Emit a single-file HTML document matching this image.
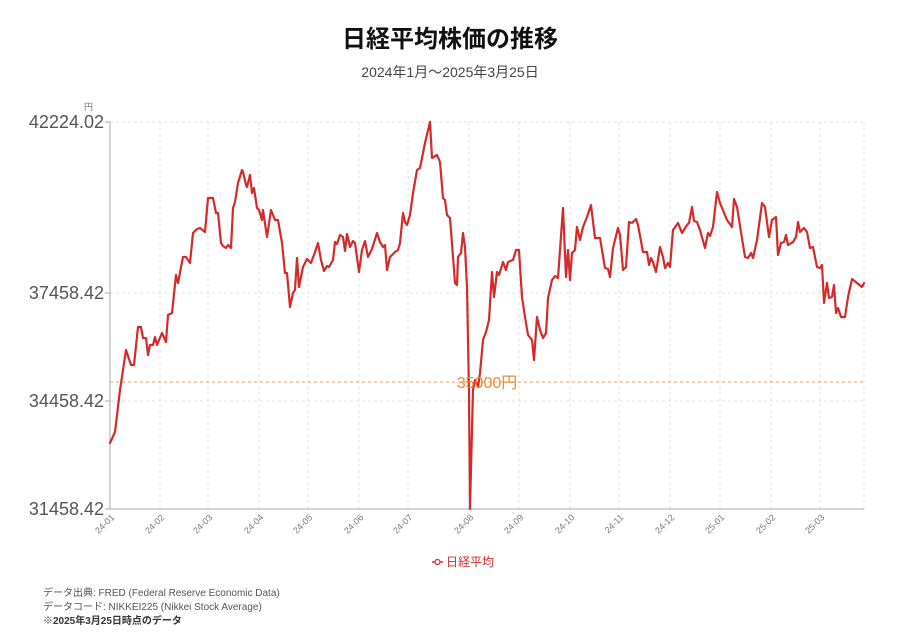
<!DOCTYPE html>
<html><head><meta charset="utf-8"><style>
body{margin:0;background:#fff;font-family:"Liberation Sans","Noto Sans CJK JP",sans-serif;}
</style></head><body>
<svg width="900" height="633" xmlns="http://www.w3.org/2000/svg" font-family="Liberation Sans, Noto Sans CJK JP, sans-serif">
<text x="450" y="47" text-anchor="middle" font-size="24" font-weight="bold" fill="#111">日経平均株価の推移</text>
<text x="450" y="77" text-anchor="middle" font-size="14" fill="#444">2024年1月〜2025年3月25日</text>
<g stroke="#e2e2e2" stroke-dasharray="3,3" stroke-width="1">
<line x1="110" y1="122" x2="864" y2="122"/><line x1="110" y1="293" x2="864" y2="293"/><line x1="110" y1="401" x2="864" y2="401"/>
<line x1="160" y1="122" x2="160" y2="509"/><line x1="208" y1="122" x2="208" y2="509"/><line x1="259" y1="122" x2="259" y2="509"/><line x1="308" y1="122" x2="308" y2="509"/><line x1="359" y1="122" x2="359" y2="509"/><line x1="408" y1="122" x2="408" y2="509"/><line x1="469" y1="122" x2="469" y2="509"/><line x1="519" y1="122" x2="519" y2="509"/><line x1="570" y1="122" x2="570" y2="509"/><line x1="619" y1="122" x2="619" y2="509"/><line x1="670" y1="122" x2="670" y2="509"/><line x1="720" y1="122" x2="720" y2="509"/><line x1="771" y1="122" x2="771" y2="509"/><line x1="820" y1="122" x2="820" y2="509"/><line x1="864" y1="122" x2="864" y2="509"/>
</g>
<line x1="110" y1="382" x2="864" y2="382" stroke="#f5a05a" stroke-dasharray="3,3" stroke-width="1"/>
<line x1="110" y1="122" x2="110" y2="509" stroke="#aaa"/>
<line x1="110" y1="509" x2="864" y2="509" stroke="#aaa"/>
<g stroke="#aaa"><line x1="105" y1="122" x2="110" y2="122"/><line x1="105" y1="293" x2="110" y2="293"/><line x1="105" y1="401" x2="110" y2="401"/><line x1="105" y1="509" x2="110" y2="509"/></g>
<g font-size="18" fill="#555" text-anchor="end">
<text x="104" y="128">42224.02</text><text x="104" y="299">37458.42</text><text x="104" y="407">34458.42</text><text x="104" y="515">31458.42</text>
</g>
<text x="84" y="110" font-size="9" fill="#777">円</text>
<g font-size="9" fill="#777" text-anchor="end">
<text transform="translate(115,518) rotate(-45)">24-01</text><text transform="translate(165,518) rotate(-45)">24-02</text><text transform="translate(213,518) rotate(-45)">24-03</text><text transform="translate(264,518) rotate(-45)">24-04</text><text transform="translate(313,518) rotate(-45)">24-05</text><text transform="translate(364,518) rotate(-45)">24-06</text><text transform="translate(413,518) rotate(-45)">24-07</text><text transform="translate(474,518) rotate(-45)">24-08</text><text transform="translate(524,518) rotate(-45)">24-09</text><text transform="translate(575,518) rotate(-45)">24-10</text><text transform="translate(624,518) rotate(-45)">24-11</text><text transform="translate(675,518) rotate(-45)">24-12</text><text transform="translate(725,518) rotate(-45)">25-01</text><text transform="translate(776,518) rotate(-45)">25-02</text><text transform="translate(825,518) rotate(-45)">25-03</text>
</g>
<polyline fill="none" stroke="#d42a2a" stroke-width="2.2" stroke-linejoin="round" stroke-linecap="round" points="110,443 115,432 120,390 126,350 131,365 134,365 138,327 141,327 143,338 146,338 148,355 150,345 153,345 155,337 157,345 162,333 166,342 168,315 172,313 176,275 178,283 183,257 186,257 190,263 193,233 197,229 200,228 205,232 208,198 213,198 216,213 218,213 221,243 223,246 226,248 228,245 231,248 233,208 235,202 238,183 242,170 243,172 246,185 247,187 250,175 252,193 254,188 257,208 259,210 262,220 263,210 267,237 271,210 275,220 278,220 282,243 285,273 287,273 290,307 293,293 295,290 297,258 299,287 303,267 307,259 311,263 315,252 318,243 321,260 324,271 327,266 329,267 333,260 335,242 337,244 340,235 343,237 345,251 347,234 350,247 353,241 355,243 359,272 362,250 365,241 368,257 372,249 377,233 380,242 383,247 385,245 387,270 390,257 395,252 398,250 400,243 403,213 405,222 407,225 410,215 413,193 417,170 420,168 425,143 430,122 432,158 437,155 440,162 443,198 445,200 447,215 450,218 453,257 455,283 457,285 458,257 461,253 463,233 465,247 467,287 469,393 470,509 473,390 475,380 478,387 480,373 483,340 486,332 489,320 492,272 494,297 497,272 499,275 503,262 506,270 508,262 513,260 516,250 519,250 522,297 525,317 528,335 532,340 534,360 537,317 540,330 543,338 546,333 548,298 552,280 555,276 558,278 563,208 566,277 568,250 570,280 572,253 575,250 577,227 580,240 583,227 587,217 591,205 595,238 600,238 605,268 608,269 610,277 613,248 618,228 620,235 623,270 626,267 629,222 632,223 636,219 638,225 643,252 647,252 649,265 651,258 653,262 656,272 660,247 663,257 665,268 668,263 670,267 673,230 678,223 682,233 687,225 689,223 692,207 694,221 697,222 700,230 705,248 708,233 710,236 713,227 717,192 720,203 727,220 732,227 734,199 737,207 745,257 748,258 751,253 753,258 757,240 762,203 765,207 769,237 772,220 776,217 778,255 781,243 784,242 786,235 788,245 793,242 796,237 798,222 800,232 804,228 807,232 810,248 813,247 817,267 820,268 822,265 824,303 827,283 829,298 832,297 834,285 836,313 838,308 841,317 845,317 848,297 852,279 857,283 862,287 864,283"/>
<text x="487" y="388" text-anchor="middle" font-size="16" fill="#f08a2a">35000円</text>
<line x1="432" y1="562" x2="443" y2="562" stroke="#d42a2a" stroke-width="1.5"/>
<circle cx="437.5" cy="562" r="2.5" fill="#fff" stroke="#d42a2a" stroke-width="1.2"/>
<text x="446" y="566" font-size="12" fill="#d42a2a">日経平均</text>
<g font-size="10" fill="#555">
<text x="43" y="596">データ出典: FRED (Federal Reserve Economic Data)</text>
<text x="43" y="610">データコード: NIKKEI225 (Nikkei Stock Average)</text>
<text x="43" y="624" font-weight="bold" fill="#333">※2025年3月25日時点のデータ</text>
</g>
</svg>
</body></html>
